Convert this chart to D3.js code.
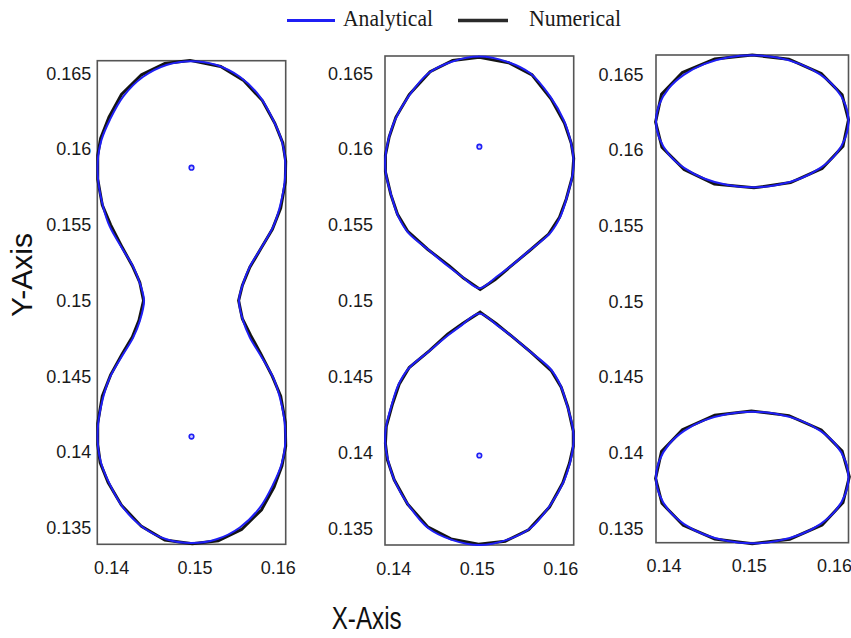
<!DOCTYPE html>
<html>
<head>
<meta charset="utf-8">
<script src="https://cdn.jsdelivr.net/npm/d3@7"></script>
<style>
  body { margin: 0; background: white; }
</style>
</head>
<body>
<div id="d3_cont"></div>
<script>
// tick values shared by the three panels
var xTicks = [0.14, 0.15, 0.16];
var yTicks = [0.135, 0.14, 0.145, 0.15, 0.155, 0.16, 0.165];

// panel 1 : single peanut shaped contour
var p1Analytical = [[0.1500,0.1658],[0.1530,0.16555],[0.1558,0.16477],[0.1582,0.16346],[0.1598,0.16192],[0.1608,0.1606],[0.1612,0.1595],[0.1612,0.15796],[0.1606,0.1562],[0.1598,0.15488],[0.1582,0.15334],[0.1570,0.15224],[0.1562,0.15115],[0.1557,0.1500],
  [0.1562,0.14865],[0.1570,0.14756],[0.1582,0.14646],[0.1598,0.14492],[0.1606,0.1436],[0.1612,0.14184],[0.1612,0.1403],[0.1608,0.1392],[0.1598,0.13788],[0.1582,0.13634],[0.1558,0.13503],[0.1530,0.13425],[0.1500,0.1340],
  [0.1470,0.13425],[0.1442,0.13503],[0.1418,0.13634],[0.1402,0.13788],[0.1392,0.1392],[0.1388,0.1403],[0.1388,0.14184],[0.1394,0.1436],[0.1402,0.14492],[0.1418,0.14646],[0.1430,0.14756],[0.1438,0.14865],[0.1443,0.1500],
  [0.1438,0.15115],[0.1430,0.15224],[0.1418,0.15334],[0.1402,0.15488],[0.1394,0.1562],[0.1388,0.15796],[0.1388,0.1595],[0.1392,0.1606],[0.1402,0.16192],[0.1418,0.16346],[0.1442,0.16477],[0.1470,0.16555]];
var p1Numerical = [[0.1498,0.16585],[0.1535,0.16545],[0.1562,0.16455],[0.1585,0.1632],[0.1600,0.1617],[0.16095,0.1604],[0.1613,0.1592],[0.16125,0.1578],[0.1607,0.1561],[0.1597,0.1547],[0.1584,0.1535],[0.1570,0.1522],[0.1561,0.1510],[0.15565,0.1500],
  [0.1561,0.1488],[0.1571,0.1477],[0.1583,0.1465],[0.1597,0.1450],[0.1607,0.1437],[0.16125,0.1420],[0.1613,0.1404],[0.16085,0.1391],[0.1599,0.1377],[0.1584,0.1362],[0.1560,0.1349],[0.1532,0.13415],[0.1501,0.13395],
  [0.1468,0.1342],[0.1440,0.1351],[0.1416,0.1365],[0.1400,0.1380],[0.13905,0.1393],[0.13875,0.1405],[0.13875,0.1419],[0.1393,0.1437],[0.1403,0.1451],[0.1417,0.1465],[0.1429,0.1476],[0.1437,0.1487],[0.14425,0.1500],
  [0.1438,0.1512],[0.1429,0.1523],[0.1417,0.1535],[0.1403,0.1550],[0.1393,0.1563],[0.13875,0.1580],[0.13875,0.1596],[0.1391,0.1607],[0.1401,0.1621],[0.1416,0.1636],[0.1440,0.1649],[0.1468,0.16565]];
var p1Centers = [[0.15, 0.15877], [0.15, 0.14103]];

// panel 2 : two tear drop contours
var p2AnalyticalTop = [[0.1500,0.1661],[0.1533,0.16576],[0.1561,0.1650],[0.1585,0.16346],[0.1601,0.16192],[0.1609,0.1606],[0.16125,0.1595],[0.1612,0.15841],[0.1605,0.15687],[0.1597,0.15555],[0.1585,0.15448],[0.1561,0.15336],[0.1537,0.15226],[0.1521,0.1516],[0.1500,0.15083],
  [0.1479,0.1516],[0.1463,0.15226],[0.1439,0.15336],[0.1415,0.15448],[0.1403,0.15555],[0.1395,0.15687],[0.1388,0.15841],[0.13875,0.1595],[0.1391,0.1606],[0.1399,0.16192],[0.1415,0.16346],[0.1439,0.1650],[0.1467,0.16576]];
var p2AnalyticalBottom = [[0.1500,0.14917],[0.1521,0.1484],[0.1537,0.14774],[0.1561,0.14664],[0.1585,0.14552],[0.1597,0.14445],[0.1605,0.14313],[0.1612,0.14159],[0.16125,0.1405],[0.1609,0.1394],[0.1601,0.13808],[0.1585,0.13654],[0.1561,0.135],[0.1533,0.13424],[0.1500,0.1339],
  [0.1467,0.13424],[0.1439,0.135],[0.1415,0.13654],[0.1399,0.13808],[0.1391,0.1394],[0.13875,0.1405],[0.1388,0.14159],[0.1395,0.14313],[0.1403,0.14445],[0.1415,0.14552],[0.1439,0.14664],[0.1463,0.14774],[0.1479,0.1484]];
var p2NumericalTop = [[0.1500,0.16605],[0.1535,0.1657],[0.1563,0.1649],[0.1586,0.1633],[0.1602,0.1617],[0.1610,0.1604],[0.1613,0.1594],[0.16115,0.1582],[0.1604,0.1567],[0.1596,0.1555],[0.1583,0.1544],[0.1560,0.1533],[0.1536,0.1522],[0.1519,0.1514],[0.1501,0.15075],
  [0.1481,0.1515],[0.1464,0.1523],[0.1438,0.1534],[0.1414,0.1546],[0.1402,0.1557],[0.1394,0.1570],[0.13875,0.1585],[0.13875,0.1596],[0.1392,0.1608],[0.1400,0.1621],[0.1416,0.1636],[0.1441,0.1651],[0.1468,0.16585]];
var p2NumericalBottom = [[0.1501,0.14925],[0.1520,0.1485],[0.1538,0.1477],[0.1562,0.1466],[0.1586,0.1454],[0.1598,0.1443],[0.1606,0.1430],[0.16125,0.1414],[0.16125,0.1404],[0.1608,0.1393],[0.1600,0.1380],[0.1584,0.1364],[0.1559,0.1349],[0.1531,0.13415],[0.1499,0.13395],
  [0.1466,0.1343],[0.1438,0.1351],[0.1414,0.1366],[0.1398,0.1382],[0.1390,0.1395],[0.13875,0.1406],[0.13885,0.1417],[0.1396,0.1432],[0.1404,0.1445],[0.1416,0.1456],[0.1440,0.1467],[0.1462,0.1478],[0.1480,0.1485]];
var p2Centers = [[0.15, 0.16016], [0.15, 0.1398]];

// panel 3 : two flat ellipses
var p3AnalyticalTop = [[0.1613,0.1619],[0.1609,0.16303],[0.1598,0.16408],[0.1580,0.16498],[0.15565,0.16568],[0.1529,0.16611],[0.1500,0.16626],[0.1471,0.16611],[0.14435,0.16568],[0.1420,0.16498],[0.1402,0.16408],[0.1391,0.16303],
  [0.1387,0.1619],[0.1391,0.16077],[0.1402,0.15972],[0.1420,0.15882],[0.14435,0.15812],[0.1471,0.15769],[0.1500,0.15754],[0.1529,0.15769],[0.15565,0.15812],[0.1580,0.15882],[0.1598,0.15972],[0.1609,0.16077]];
var p3AnalyticalBottom = [[0.1613,0.13836],[0.1609,0.13949],[0.1598,0.14054],[0.1580,0.14144],[0.15565,0.14213],[0.1529,0.14256],[0.1500,0.14271],[0.1471,0.14256],[0.14435,0.14213],[0.1420,0.14144],[0.1402,0.14054],[0.1391,0.13949],
  [0.1387,0.13836],[0.1391,0.13723],[0.1402,0.13618],[0.1420,0.13528],[0.14435,0.13459],[0.1471,0.13416],[0.1500,0.13401],[0.1529,0.13416],[0.15565,0.13459],[0.1580,0.13528],[0.1598,0.13618],[0.1609,0.13723]];
var p3NumericalTop = [[0.1613,0.1620],[0.16055,0.16365],[0.1581,0.16505],[0.1543,0.1660],[0.1500,0.16628],[0.1456,0.16602],[0.1418,0.16512],[0.13935,0.16368],
  [0.13865,0.16185],[0.1394,0.16018],[0.1420,0.15872],[0.14555,0.15775],[0.1502,0.1575],[0.1545,0.15785],[0.1582,0.15878],[0.16065,0.16025]];
var p3NumericalBottom = [[0.1614,0.1384],[0.16055,0.1401],[0.1581,0.1415],[0.1543,0.14245],[0.1499,0.14275],[0.1456,0.14248],[0.1418,0.14152],[0.13935,0.14008],
  [0.13865,0.1383],[0.1394,0.13665],[0.1419,0.1352],[0.1456,0.1343],[0.1500,0.13398],[0.1544,0.13428],[0.1582,0.13522],[0.16065,0.1367]];

// legend entries
var legendLabels = ["Analytical", "Numerical"];

var width = 851, height = 638;
var blue = "#1f1ff5", black = "#141414";

var svg = d3.select("#d3_cont")
   .append("svg")
   .attr("width", width)
   .attr("height", height)
   .style("background", "white");

// frame positions (pixels) and domains of each panel
var panels = [
   { x0: 97.3, x1: 285.7, y0: 60.7, y1: 544.3, xd: [0.1387, 0.1613], yd: [0.13392, 0.16583], yPad: 6, xShift: 3,
     analytical: [p1Analytical], numerical: [p1Numerical], centers: p1Centers },
   { x0: 385, x1: 573.7, y0: 56, y1: 545, xd: [0.1387, 0.1613], yd: [0.1339, 0.16614], yPad: 12, xShift: -2.5,
     analytical: [p2AnalyticalTop, p2AnalyticalBottom], numerical: [p2NumericalTop, p2NumericalBottom], centers: p2Centers },
   { x0: 656, x1: 848.5, y0: 55, y1: 542.7, xd: [0.1387, 0.1613], yd: [0.13405, 0.16628], yPad: 12.5, xShift: -3.5,
     analytical: [p3AnalyticalTop, p3AnalyticalBottom], numerical: [p3NumericalTop, p3NumericalBottom], centers: [] }
];

panels.forEach(function (p) {
   var x = d3.scaleLinear().domain(p.xd).range([p.x0, p.x1]);
   var y = d3.scaleLinear().domain(p.yd).range([p.y1, p.y0]);

   // Y axis labels, no ticks
   var ya = svg.append("g")
      .attr("transform", "translate(" + p.x0 + ",0)")
      .call(d3.axisLeft(y).tickValues(yTicks).tickSize(0).tickPadding(p.yPad).tickFormat(d3.format("")));
   ya.select(".domain").remove();

   // X axis labels, no ticks
   var xa = svg.append("g")
      .attr("transform", "translate(0," + p.y1 + ")")
      .call(d3.axisBottom(x).tickValues(xTicks).tickSize(0).tickPadding(17).tickFormat(d3.format("")));
   xa.select(".domain").remove();
   xa.selectAll("text").attr("dx", p.xShift);

   svg.selectAll(".tick text")
      .style("font-family", "'Liberation Sans', Arial, sans-serif")
      .style("font-size", "18px")
      .attr("fill", "#1a1a1a");

   // panel frame
   svg.append("rect")
      .attr("x", p.x0)
      .attr("y", p.y0)
      .attr("width", p.x1 - p.x0)
      .attr("height", p.y1 - p.y0)
      .attr("fill", "none")
      .attr("stroke", "#555")
      .attr("stroke-width", 1.6);

   var lineLin = d3.line()
      .x(function (d) { return x(d[0]); })
      .y(function (d) { return y(d[1]); })
      .curve(d3.curveLinearClosed);
   var lineSmooth = d3.line()
      .x(function (d) { return x(d[0]); })
      .y(function (d) { return y(d[1]); })
      .curve(d3.curveCatmullRomClosed.alpha(0.5));

   // numerical contours underneath
   svg.append("g")
      .selectAll("path")
      .data(p.numerical)
      .enter()
      .append("path")
      .attr("d", lineLin)
      .attr("fill", "none")
      .attr("stroke", black)
      .attr("stroke-width", 3);

   // analytical contours on top
   svg.append("g")
      .selectAll("path")
      .data(p.analytical)
      .enter()
      .append("path")
      .attr("d", lineSmooth)
      .attr("fill", "none")
      .attr("stroke", blue)
      .attr("stroke-width", 2);

   // centre markers
   svg.append("g")
      .selectAll("circle")
      .data(p.centers)
      .enter()
      .append("circle")
      .attr("cx", function (d) { return x(d[0]); })
      .attr("cy", function (d) { return y(d[1]); })
      .attr("r", 2.3)
      .attr("fill", "#c8c8ff")
      .attr("stroke", blue)
      .attr("stroke-width", 1.6);
});

// legend
var legend = svg.append("g");
var legendPos = [
   { x1: 287, x2: 335, tx: 343, w: 90, color: blue, sw: 3 },
   { x1: 458, x2: 508, tx: 529, w: 92, color: "#2a2a2a", sw: 3.6 }
];
legendLabels.forEach(function (lab, i) {
   var lp = legendPos[i];
   legend.append("line")
      .attr("x1", lp.x1).attr("x2", lp.x2)
      .attr("y1", 20.5).attr("y2", 20.5)
      .attr("stroke", lp.color)
      .attr("stroke-width", lp.sw);
   legend.append("text")
      .attr("x", lp.tx)
      .attr("y", 26)
      .attr("textLength", lp.w)
      .attr("lengthAdjust", "spacingAndGlyphs")
      .style("font-family", "'Liberation Serif', 'Times New Roman', serif")
      .style("font-size", "24px")
      .attr("fill", "#1a1a1a")
      .text(lab);
});

// axis titles
svg.append("text")
   .attr("x", 366.7)
   .attr("y", 628.5)
   .attr("text-anchor", "middle")
   .attr("textLength", 70)
   .attr("lengthAdjust", "spacingAndGlyphs")
   .style("font-family", "'Liberation Sans', Arial, sans-serif")
   .style("font-size", "32px")
   .attr("fill", "#111")
   .text("X-Axis");

svg.append("text")
   .attr("transform", "translate(31.5,275) rotate(-90)")
   .attr("text-anchor", "middle")
   .style("font-family", "'Liberation Sans', Arial, sans-serif")
   .style("font-size", "30px")
   .attr("fill", "#111")
   .text("Y-Axis");
</script>
</body>
</html>
